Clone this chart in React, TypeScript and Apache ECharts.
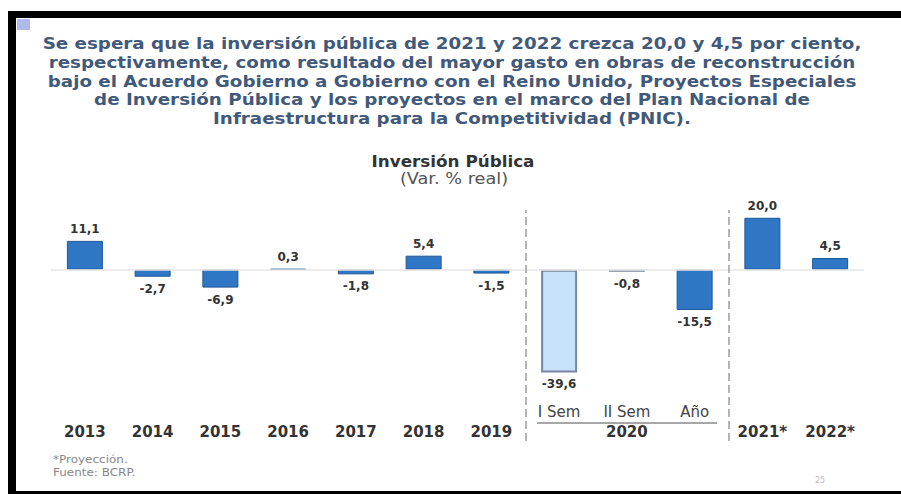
import React, { useEffect, useRef } from "react";
import * as echarts from "echarts";

const categories = ["2013", "2014", "2015", "2016", "2017", "2018", "2019", "I Sem", "II Sem", "Año", "2021*", "2022*"];
const yearLabels = ["2013", "2014", "2015", "2016", "2017", "2018", "2019", "", "2020", "", "2021*", "2022*"];
const subLabels = ["", "", "", "", "", "", "", "I Sem", "II Sem", "Año", "", ""];
const values = [11.1, -2.7, -6.9, 0.3, -1.8, 5.4, -1.5, -39.6, -0.8, -15.5, 20.0, 4.5];
const semesterFlags = [false, false, false, false, false, false, false, true, true, false, false, false];
const separatorPositions = [7, 10];

const titleLines = [
  "Se espera que la inversión pública de 2021 y 2022 crezca 20,0 y 4,5 por ciento,",
  "respectivamente, como resultado del mayor gasto en obras de reconstrucción",
  "bajo el Acuerdo Gobierno a Gobierno con el Reino Unido, Proyectos Especiales",
  "de Inversión Pública y los proyectos en el marco del Plan Nacional de",
  "Infraestructura para la Competitividad (PNIC).",
];
const chartTitle = "Inversión Pública";
const chartSubtitle = "(Var. % real)";
const footnotes = ["*Proyección.", "Fuente: BCRP."];

const FONT = "'DejaVu Sans', sans-serif";

export default function App() {
  const ref = useRef<HTMLDivElement>(null);
  useEffect(() => {
    if (!ref.current) return;
    const chart = echarts.init(ref.current, undefined, { renderer: "svg" });
    const fmt = (v: number) => v.toFixed(1).replace(".", ",");
    const option: any = {
      animation: false,
      backgroundColor: "#ffffff",
      grid: { left: 51, right: 37, top: 210, bottom: 53 },
      xAxis: [
        {
          type: "category",
          data: categories,
          position: "bottom",
          axisLine: { show: false, onZero: false },
          axisTick: { show: false },
          axisLabel: {
            interval: 0,
            margin: -17,
            formatter: (_v: string, i: number) => yearLabels[i],
            fontFamily: FONT,
            fontWeight: "bold",
            fontSize: 15,
            color: "#333",
          },
          splitLine: { show: false },
        },
        {
          type: "category",
          data: categories,
          position: "bottom",
          axisLine: { show: false, onZero: false },
          axisTick: { show: false },
          axisLabel: {
            interval: 0,
            margin: -37,
            formatter: (_v: string, i: number) => subLabels[i],
            fontFamily: FONT,
            fontSize: 15,
            color: "#444",
          },
          splitLine: { show: false },
        },
        {
          type: "value",
          min: 0,
          max: categories.length,
          show: false,
          position: "bottom",
          splitLine: { show: false },
        },
      ],
      yAxis: {
        type: "value",
        min: -66,
        max: 23,
        show: false,
        splitLine: { show: false },
      },
      series: [
        {
          type: "bar",
          xAxisIndex: 0,
          barWidth: 36,
          z: 3,
          data: values.map((v, i) => ({
            value: v,
            itemStyle: semesterFlags[i]
              ? { color: "#c6e1fa", borderColor: "#76869c", borderWidth: 2 }
              : { color: "#2f76c5", borderColor: "#1f5696", borderWidth: 1 },
            label: {
              show: true,
              position: v >= 0 ? "top" : "bottom",
              distance: 6,
              formatter: () => fmt(v),
              fontFamily: FONT,
              fontWeight: "bold",
              fontSize: 12,
              color: "#333",
            },
          })),
          markLine: {
            silent: true,
            symbol: "none",
            label: { show: false },
            lineStyle: { color: "#e6e6e6", type: "solid", width: 1.5 },
            data: [{ yAxis: 0 }],
          },
        },
        {
          type: "line",
          xAxisIndex: 2,
          data: [],
          silent: true,
          markLine: {
            silent: true,
            symbol: "none",
            label: { show: false },
            lineStyle: { color: "#b5b5b5", type: "dashed", width: 2 },
            data: separatorPositions.map((p) => ({ xAxis: p })),
          },
        },
      ],
      graphic: [
        { type: "rect", shape: { x: 8, y: 11, width: 893, height: 7 }, style: { fill: "#000" } },
        { type: "rect", shape: { x: 8, y: 11, width: 8, height: 481 }, style: { fill: "#000" } },
        { type: "rect", shape: { x: 8, y: 491, width: 893, height: 3 }, style: { fill: "#000" } },
        { type: "rect", shape: { x: 17, y: 19, width: 13, height: 11 }, style: { fill: "#aebbea" } },
        ...titleLines.map((t, i) => ({
          type: "text",
          x: 452,
          y: 44 + i * 18.6,
          scaleX: 1.22,
          style: {
            text: t,
            align: "center",
            verticalAlign: "middle",
            fontFamily: FONT,
            fontWeight: "bold",
            fontSize: 15,
            fill: "#41597a",
          },
        })),
        {
          type: "text",
          x: 453,
          y: 162,
          scaleX: 1.12,
          style: { text: chartTitle, align: "center", verticalAlign: "middle", fontFamily: FONT, fontWeight: "bold", fontSize: 15, fill: "#333" },
        },
        {
          type: "text",
          x: 454,
          y: 179,
          scaleX: 1.18,
          style: { text: chartSubtitle, align: "center", verticalAlign: "middle", fontFamily: FONT, fontSize: 15, fill: "#555" },
        },
        {
          type: "line",
          shape: { x1: 537, y1: 423, x2: 717, y2: 423 },
          style: { stroke: "#8a8a8a", lineWidth: 1.5 },
        },
        ...footnotes.map((t, i) => ({
          type: "text",
          x: 53,
          y: 460 + i * 13,
          scaleX: 1.2,
          style: { text: t, align: "left", verticalAlign: "middle", fontFamily: FONT, fontSize: 10, fill: "#888" },
        })),
        {
          type: "text",
          x: 820,
          y: 480,
          style: { text: "25", align: "center", verticalAlign: "middle", fontFamily: FONT, fontSize: 8, fill: "#bbb" },
        },
      ],
    };
    chart.setOption(option);
    return () => chart.dispose();
  }, []);
  return <div ref={ref} style={{ position: "fixed", left: 0, top: 0, width: 901, height: 494 }} />;
}
